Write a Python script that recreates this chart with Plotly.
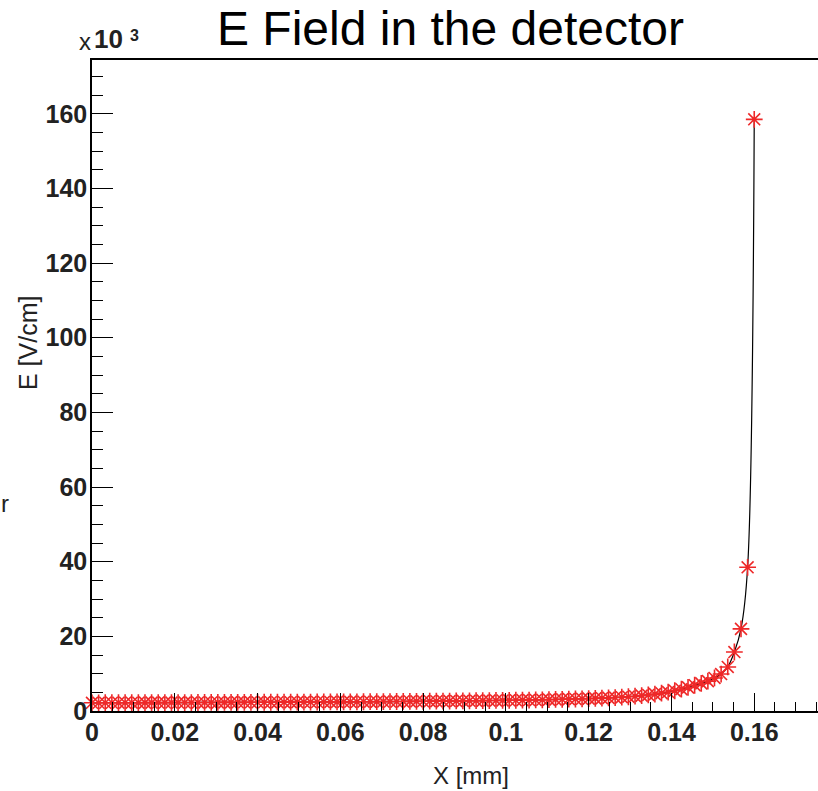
import plotly.graph_objects as go

# ---- data ----
x_mm = [round(0.0016 * i, 4) for i in range(101)]
e_field = [
    2200, 2200, 2210, 2210, 2220, 2220, 2230, 2230, 2240, 2240,
    2250, 2250, 2260, 2260, 2270, 2270, 2280, 2290, 2290, 2300,
    2300, 2310, 2320, 2320, 2330, 2340, 2340, 2350, 2360, 2370,
    2370, 2380, 2390, 2400, 2410, 2420, 2430, 2440, 2450, 2460,
    2470, 2480, 2490, 2500, 2520, 2530, 2540, 2560, 2570, 2590,
    2600, 2620, 2640, 2650, 2670, 2690, 2710, 2730, 2760, 2780,
    2800, 2820, 2840, 2860, 2880, 2910, 2940, 2970, 3000, 3050,
    3100, 3140, 3180, 3220, 3270, 3320, 3380, 3440, 3520, 3600,
    3700, 3820, 3960, 4120, 4300, 4520, 4780, 5080, 5430, 5850,
    6330, 6900, 7400, 8000, 8850, 9900, 11800, 15800, 22000, 38500,
    158500,
]
x_tick_vals = [0, 0.02, 0.04, 0.06, 0.08, 0.1, 0.12, 0.14, 0.16]
x_tick_text = ["0", "0.02", "0.04", "0.06", "0.08", "0.1", "0.12", "0.14", "0.16"]
y_tick_vals = [0, 20000, 40000, 60000, 80000, 100000, 120000, 140000, 160000]
y_tick_text = ["0", "20", "40", "60", "80", "100", "120", "140", "160"]

title_text = "E Field in the detector"
x_title = "X [mm]"
y_title = "E [V/cm]"

W, H = 818, 791
L, R, T, B = 92, 0, 60, 80
pw, ph = W - L - R, H - T - B

def px(xp):
    return (xp - L) / pw

def py(yp):
    return (H - B - yp) / ph

SANS = "Liberation Sans, Arial, sans-serif"
INK = "#222222"

fig = go.Figure()
fig.add_trace(go.Scatter(
    x=x_mm, y=e_field, mode="lines+markers",
    line=dict(color="black", width=1.2, shape="spline", smoothing=1),
    marker=dict(symbol="asterisk-open", size=14, color="rgb(238,40,40)",
                line=dict(color="rgb(238,40,40)", width=1.6)),
    showlegend=False, cliponaxis=False,
))

tickfont = dict(family=SANS, size=25, color=INK, weight="bold")

fig.update_layout(
    width=W, height=H,
    margin=dict(l=L, r=R, t=T, b=B, pad=0),
    paper_bgcolor="white", plot_bgcolor="white",
    xaxis=dict(
        range=[0, (W - L) / 4139.0], tickmode="array",
        tickvals=x_tick_vals, ticktext=x_tick_text,
        ticks="inside", ticklen=18, tickwidth=1.2, tickcolor="black",
        minor=dict(dtick=0.005, tick0=0, ticks="inside", ticklen=9,
                   tickwidth=1, tickcolor="black", showgrid=False),
        showgrid=False, zeroline=False, showline=True, linecolor="black",
        linewidth=1.5, mirror=True, tickfont=tickfont, ticklabelstandoff=-2,
    ),
    yaxis=dict(
        range=[0, 174400], tickmode="array",
        tickvals=y_tick_vals, ticktext=y_tick_text,
        ticks="inside", ticklen=21, tickwidth=1.2, tickcolor="black",
        minor=dict(dtick=5000, tick0=0, ticks="inside", ticklen=11,
                   tickwidth=1, tickcolor="black", showgrid=False),
        showgrid=False, zeroline=False, showline=True, linecolor="black",
        linewidth=1.5, mirror=False, tickfont=tickfont, ticklabelstandoff=-2,
    ),
)

ann = [
    dict(text=title_text, x=px(450), y=py(0), font=dict(family=SANS, size=48, color="black"),
         xanchor="center", yanchor="top"),
    dict(text=x_title, x=px(471), y=py(775), font=dict(family=SANS, size=24, color=INK),
         xanchor="center", yanchor="middle"),
    dict(text=y_title, x=px(28), y=py(343), textangle=-90,
         font=dict(family=SANS, size=25, color=INK), xanchor="center", yanchor="middle"),
    dict(text="x", x=px(77), y=py(41), font=dict(family=SANS, size=24, color=INK),
         xanchor="left", yanchor="middle"),
    dict(text="<b>10</b>", x=px(92), y=py(39), font=dict(family=SANS, size=26, color=INK),
         xanchor="left", yanchor="middle"),
    dict(text="<b>3</b>", x=px(128), y=py(36), font=dict(family=SANS, size=16, color=INK),
         xanchor="left", yanchor="middle"),
    dict(text="r", x=px(-1), y=py(503), font=dict(family=SANS, size=24, color=INK),
         xanchor="left", yanchor="middle"),
]
for a in ann:
    a.update(xref="paper", yref="paper", showarrow=False)
fig.update_layout(annotations=ann)

fig.write_html("out.html", config={"displayModeBar": False},
               post_script="document.body.style.margin='0';")
